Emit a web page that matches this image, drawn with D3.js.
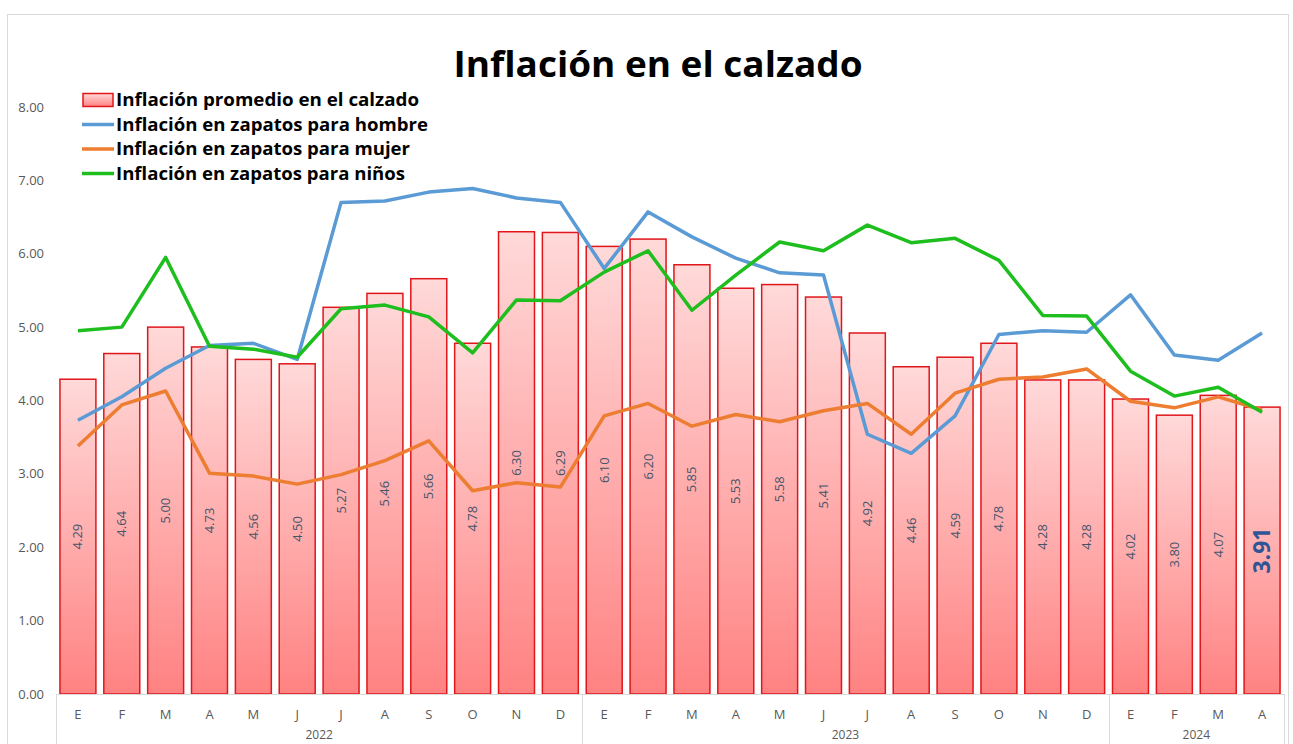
<!DOCTYPE html>
<meta charset="utf-8">
<style>
  body { margin: 0; background: #fff; }
  svg text { font-family: 'Open Sans', 'Noto Sans', sans-serif; }
  .tick-y { fill: #595959; font-size: 13px; }
  .month { fill: #595959; font-size: 13px; }
  .bar-label { fill: #44546A; font-size: 13px; }
  .legend text { font-size: 18px; font-weight: bold; fill: #000; }
</style>
<body>
<div id="chart"></div>
<script src="https://d3js.org/d3.v7.min.js"></script>
<script>
var width = 1293;
var height = 744;

// datos
var months = ['E', 'F', 'M', 'A', 'M', 'J', 'J', 'A', 'S', 'O', 'N', 'D',
              'E', 'F', 'M', 'A', 'M', 'J', 'J', 'A', 'S', 'O', 'N', 'D',
              'E', 'F', 'M', 'A'];
var years = ['2022', '2023', '2024'];
var yearCounts = [12, 12, 4];
var yTicks = [0, 1, 2, 3, 4, 5, 6, 7, 8];

var promedio = [4.29, 4.64, 5.00, 4.73, 4.56, 4.50, 5.27, 5.46, 5.66, 4.78, 6.30, 6.29,
                6.10, 6.20, 5.85, 5.53, 5.58, 5.41, 4.92, 4.46, 4.59, 4.78, 4.28, 4.28,
                4.02, 3.80, 4.07, 3.91];
var hombre = [3.73, 4.05, 4.44, 4.75, 4.78, 4.56, 6.70, 6.72, 6.84, 6.89, 6.76, 6.70,
              5.80, 6.57, 6.23, 5.94, 5.74, 5.71, 3.54, 3.28, 3.79, 4.90, 4.95, 4.93,
              5.44, 4.62, 4.55, 4.92];
var mujer = [3.38, 3.94, 4.13, 3.01, 2.97, 2.86, 2.99, 3.18, 3.45, 2.77, 2.88, 2.82,
             3.79, 3.96, 3.65, 3.81, 3.71, 3.86, 3.96, 3.54, 4.10, 4.29, 4.32, 4.43,
             3.99, 3.90, 4.05, 3.87];
var ninos = [4.95, 5.00, 5.95, 4.74, 4.70, 4.59, 5.25, 5.30, 5.14, 4.65, 5.37, 5.36,
             5.75, 6.04, 5.23, 5.71, 6.16, 6.04, 6.39, 6.15, 6.21, 5.91, 5.16, 5.15,
             4.40, 4.06, 4.18, 3.84];

var legendNames = ['Inflación promedio en el calzado', 'Inflación en zapatos para hombre',
                   'Inflación en zapatos para mujer', 'Inflación en zapatos para niños'];
var lineColors = ['#5B9BD5', '#ED7D31', '#1DBE1D'];

var svg = d3.select('#chart').append('svg')
    .attr('width', width)
    .attr('height', height);

var defs = svg.append('defs');
var grad = defs.append('linearGradient')
    .attr('id', 'barGrad')
    .attr('x1', 0).attr('y1', 0).attr('x2', 0).attr('y2', 1);
grad.append('stop').attr('offset', '0%').attr('stop-color', '#FFD9D9');
grad.append('stop').attr('offset', '100%').attr('stop-color', '#FF8282');

// marco
svg.append('rect')
    .attr('x', 7.5).attr('y', 14.5)
    .attr('width', 1281).attr('height', 740)
    .attr('fill', 'none')
    .attr('stroke', '#D9D9D9');

var x = d3.scaleBand()
    .domain(d3.range(months.length))
    .range([56, 1284])
    .paddingInner(0.18)
    .paddingOuter(0.09);

var y = d3.scaleLinear()
    .domain([0, 8])
    .range([694, 107]);

// eje y
svg.append('g').selectAll('text')
    .data(yTicks)
  .enter().append('text')
    .attr('class', 'tick-y')
    .attr('x', 44)
    .attr('y', function (d) { return y(d); })
    .attr('dy', '0.35em')
    .attr('text-anchor', 'end')
    .text(function (d) { return d3.format('.2f')(d); });

// barras
svg.append('g').selectAll('rect')
    .data(promedio)
  .enter().append('rect')
    .attr('x', function (d, i) { return x(i); })
    .attr('y', function (d) { return y(d); })
    .attr('width', x.bandwidth())
    .attr('height', function (d) { return y(0) - y(d); })
    .attr('fill', 'url(#barGrad)')
    .attr('stroke', '#E0161B')
    .attr('stroke-width', 1.5);

// etiquetas de barras
svg.append('g').selectAll('text')
    .data(promedio)
  .enter().append('text')
    .attr('class', 'bar-label')
    .attr('transform', function (d, i) {
      var cx = x(i) + x.bandwidth() / 2;
      var cy = (y(0) + y(d)) / 2;
      return 'translate(' + cx + ',' + cy + ') rotate(-90)';
    })
    .attr('text-anchor', 'middle')
    .attr('dy', '0.35em')
    .style('font-size', function (d, i) { return i === promedio.length - 1 ? '23px' : null; })
    .style('font-weight', function (d, i) { return i === promedio.length - 1 ? 'bold' : null; })
    .style('fill', function (d, i) { return i === promedio.length - 1 ? '#2F5597' : null; })
    .text(function (d) { return d3.format('.2f')(d); });

// lineas
var line = d3.line()
    .x(function (d, i) { return x(i) + x.bandwidth() / 2; })
    .y(function (d) { return y(d); });

[hombre, mujer, ninos].forEach(function (serie, k) {
  svg.append('path')
      .datum(serie)
      .attr('d', line)
      .attr('fill', 'none')
      .attr('stroke', lineColors[k])
      .attr('stroke-width', 3.5)
      .attr('stroke-linejoin', 'round');
});

// eje x
var axisColor = '#D9D9D9';
svg.append('line')
    .attr('x1', 56).attr('x2', 1284)
    .attr('y1', 694.5).attr('y2', 694.5)
    .attr('stroke', axisColor);

var bounds = [0];
yearCounts.forEach(function (c, i) { bounds.push(bounds[i] + c); });

svg.append('g').selectAll('line')
    .data(bounds)
  .enter().append('line')
    .attr('x1', function (d) { return Math.round(56 + d * x.step()) + 0.5; })
    .attr('x2', function (d) { return Math.round(56 + d * x.step()) + 0.5; })
    .attr('y1', 694).attr('y2', 744)
    .attr('stroke', axisColor);

svg.append('g').selectAll('text')
    .data(months)
  .enter().append('text')
    .attr('class', 'month')
    .attr('x', function (d, i) { return x(i) + x.bandwidth() / 2; })
    .attr('y', 719)
    .attr('text-anchor', 'middle')
    .text(function (d) { return d; });

svg.append('g').selectAll('text')
    .data(years)
  .enter().append('text')
    .attr('class', 'month')
    .attr('x', function (d, i) { return 56 + (bounds[i] + bounds[i + 1]) / 2 * x.step(); })
    .attr('y', 739)
    .attr('text-anchor', 'middle')
    .style('font-size', '12px')
    .text(function (d) { return d; });

// titulo
svg.append('text')
    .attr('x', 658)
    .attr('y', 77)
    .attr('text-anchor', 'middle')
    .style('font-size', '36px')
    .style('font-weight', 'bold')
    .attr('textLength', 409)
    .attr('lengthAdjust', 'spacingAndGlyphs')
    .text('Inflación en el calzado');

// leyenda
var legendWidths = [303, 312, 294, 289];
var legend = svg.append('g').attr('class', 'legend');
legendNames.forEach(function (name, i) {
  var cy = 100 + i * 24.5;
  if (i === 0) {
    legend.append('rect')
        .attr('x', 83).attr('y', cy - 6.5)
        .attr('width', 30).attr('height', 13)
        .attr('fill', 'url(#barGrad)')
        .attr('stroke', '#E0161B')
        .attr('stroke-width', 1.5);
  } else {
    legend.append('line')
        .attr('x1', 82).attr('x2', 114)
        .attr('y1', cy).attr('y2', cy)
        .attr('stroke', lineColors[i - 1])
        .attr('stroke-width', 3.5);
  }
  legend.append('text')
      .attr('x', 116)
      .attr('y', cy)
      .attr('dy', '0.35em')
      .attr('textLength', legendWidths[i])
      .attr('lengthAdjust', 'spacingAndGlyphs')
      .text(name);
});
</script>
</body>
